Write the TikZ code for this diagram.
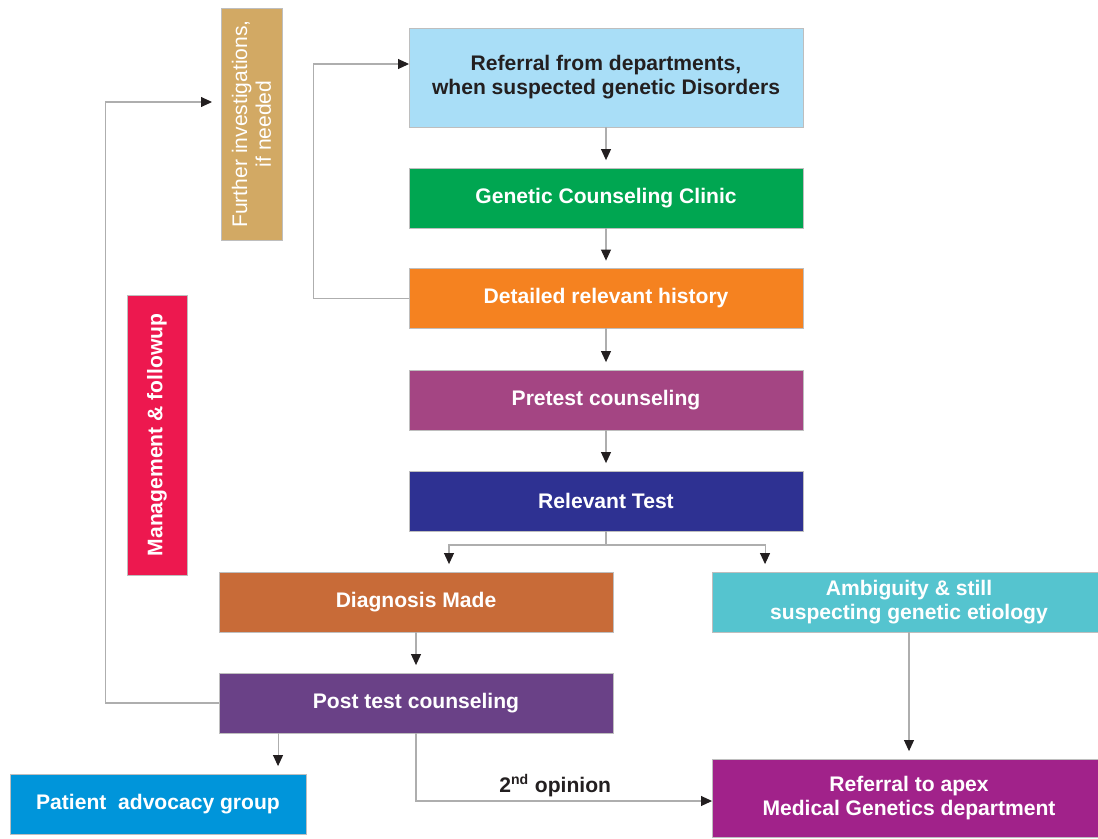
\documentclass[tikz,border=0pt]{standalone}
\usepackage{fontspec}
\setmainfont{Liberation Sans}
\usetikzlibrary{arrows.meta, positioning}

\definecolor{refblue}{HTML}{A9DEF7}
\definecolor{clinicgreen}{HTML}{00A651}
\definecolor{historyorange}{HTML}{F58220}
\definecolor{pretestpink}{HTML}{A44583}
\definecolor{testblue}{HTML}{2E3192}
\definecolor{diagbrown}{HTML}{C86B38}
\definecolor{ambteal}{HTML}{55C4CF}
\definecolor{postpurple}{HTML}{6A4187}
\definecolor{advblue}{HTML}{0095DA}
\definecolor{apexmagenta}{HTML}{A1228A}
\definecolor{furthertan}{HTML}{D2A964}
\definecolor{mgmtred}{HTML}{ED184F}
\definecolor{linegray}{HTML}{AEAEAE}
\definecolor{textdark}{HTML}{231F20}

\tikzset{
  box/.style={draw=linegray!80, line width=0.5pt, inner sep=0pt, outer sep=0pt,
    align=center, text=white, font=\fontsize{12}{13.6}\selectfont\bfseries,
    minimum width=7.88cm, minimum height=1.2cm},
  sidebox/.style={box, rotate=90, minimum height=1.2cm},
  conn/.style={draw=linegray, line width=0.6pt,
    -{Triangle[length=6.2pt, width=5.6pt, color=textdark]}},
  gap/.style={shorten >=4.5pt}
}

\begin{document}
\begin{tikzpicture}[x=0.02cm, y=-0.02cm]
	\useasboundingbox (0,0) rectangle (1098,838);

	% main column
	\node [box, fill=refblue, text=textdark, minimum height=1.98cm]
		(referral) at (606,77.5) {Referral from departments,\\when suspected genetic Disorders};
	\node [box, fill=clinicgreen] (clinic) at (606,198) {Genetic Counseling Clinic};
	\node [box, fill=historyorange] (history) at (606,298.5) {Detailed relevant history};
	\node [box, fill=pretestpink] (pretest) at (606,400) {Pretest counseling};
	\node [box, fill=testblue] (test) at (606,501) {Relevant Test};

	% outcomes
	\node [box, fill=diagbrown] (diagnosis) at (416,602) {Diagnosis Made};
	\node [box, fill=ambteal]
		(ambiguity) at (909,602) {Ambiguity \& still\\suspecting genetic etiology};
	\node [box, fill=postpurple] (posttest) at (416,703) {Post test counseling};
	\node [box, fill=advblue, minimum width=5.92cm]
		(advocacy) at (158,804) {Patient\ \ advocacy group};
	\node [box, fill=apexmagenta, minimum height=1.56cm]
		(apex) at (909,798) {Referral to apex\\Medical Genetics department};

	% side boxes
	\node [sidebox, fill=furthertan, minimum width=4.64cm, minimum height=1.22cm,
		font=\fontsize{12}{13.6}\selectfont]
		(further) at (251.5,124) {Further investigations,\\if needed};
	\node [sidebox, fill=mgmtred, minimum width=5.6cm]
		(management) at (157,435) {Management \& followup};
	\coordinate (furtherin) at (212,102);

	% connectors
	\draw [conn, gap] (referral) -- (clinic);
	\draw [conn, gap] (clinic) -- (history);
	\draw [conn, gap] (history) -- (pretest);
	\draw [conn, gap] (pretest) -- (test);
	\draw [conn, gap] (test.south) -- ++(0,14) -| ([xshift=4.6cm]diagnosis.north west);
	\draw [conn, gap] (test.south) -- ++(0,14) -| ([xshift=1.06cm]ambiguity.north west);
	\draw [conn, gap] (diagnosis) -- (posttest);
	\draw [conn, gap] ([xshift=1.18cm]posttest.south west)
		-- ([xshift=1.18cm]posttest.south west |- advocacy.north);
	\draw [conn, gap] (ambiguity) -- (apex);
	\draw [conn] (history.west) -- ++(-96,0) |- ([yshift=0.27cm]referral.west);
	\draw [conn] (posttest.west) -- ++(-114,0) |- (furtherin);
	\draw [conn] (posttest.south) |- node [pos=0.735, above=2pt, inner sep=0pt, text=textdark,
		font=\fontsize{12}{13.6}\selectfont\bfseries] (opinion) {2\textsuperscript{nd} opinion}
		([yshift=-0.06cm]apex.west);
\end{tikzpicture}
\end{document}
